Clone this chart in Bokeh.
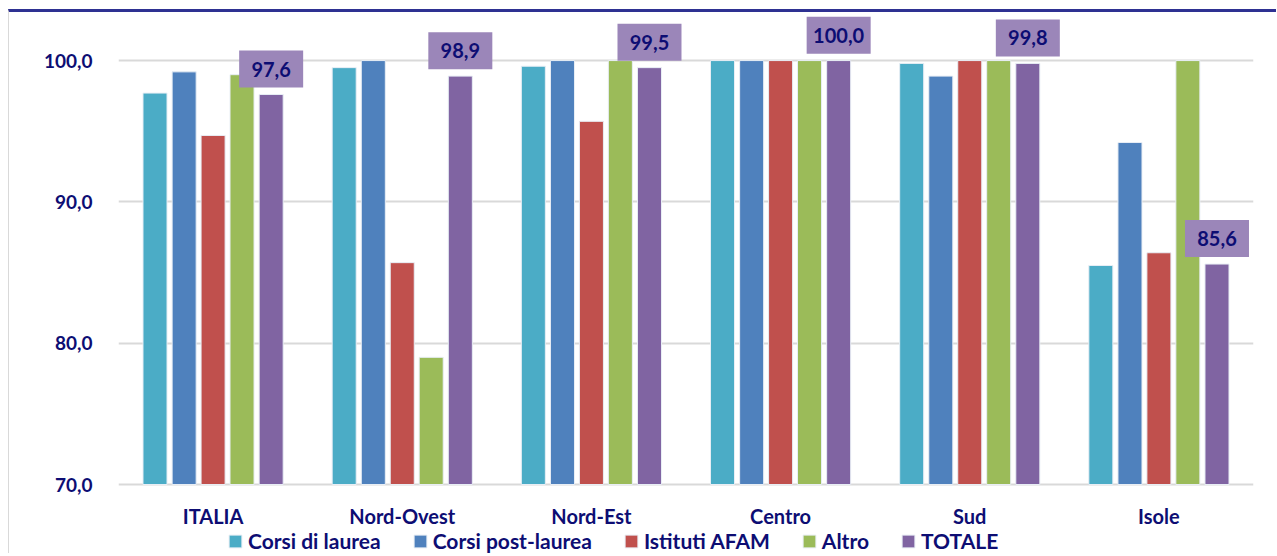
from bokeh.plotting import figure
from bokeh.models import ColumnDataSource, FactorRange, Legend, LegendItem, FixedTicker
from bokeh.core.properties import value
from bokeh.transform import dodge
from bokeh.embed import file_html
from bokeh.resources import INLINE

regions = ["ITALIA", "Nord-Ovest", "Nord-Est", "Centro", "Sud", "Isole"]
corsi_laurea = [97.7, 99.5, 99.6, 100.0, 99.8, 85.5]
corsi_post_laurea = [99.2, 100.0, 100.0, 100.0, 98.9, 94.2]
istituti_afam = [94.7, 85.7, 95.7, 100.0, 100.0, 86.4]
altro = [99.0, 79.0, 100.0, 100.0, 100.0, 100.0]
totale = [97.6, 98.9, 99.5, 100.0, 99.8, 85.6]
series_names = ["Corsi di laurea", "Corsi post-laurea", "Istituti AFAM", "Altro", "TOTALE"]
y_ticks = [70, 80, 90, 100]
y_tick_labels = ["70,0", "80,0", "90,0", "100,0"]

colors = ["#4bacc6", "#4f81bd", "#c0504d", "#9bbb59", "#8064a2"]
navy = "#0d0d73"
FONT = "Lato"
AXIS_MIN = y_ticks[0]

src = ColumnDataSource(dict(
    region=regions, s0=corsi_laurea, s1=corsi_post_laurea, s2=istituti_afam,
    s3=altro, s4=totale, base=[AXIS_MIN] * len(regions),
    lab=[("%.1f" % v).replace(".", ",") for v in totale],
))

# frame extends below the 70 baseline so that category labels and legend sit inside it
p = figure(x_range=FactorRange(*regions, range_padding=0), y_range=(64.905, 103.26),
           width=1268, height=544, output_backend="svg", toolbar_location=None,
           min_border_left=109, min_border_right=24, min_border_top=2, min_border_bottom=0,
           styles={"border-top": "3px solid #2e3192", "border-left": "1px solid #d9d9d9",
                   "margin-left": "8px", "margin-top": "9px"})
p.outline_line_color = None
p.background_fill_color = "white"

offsets = [-0.307, -0.153, 0.0, 0.153, 0.307]
renderers = []
for i, (name, col, off) in enumerate(zip(series_names, colors, offsets)):
    r = p.vbar(x=dodge("region", off, range=p.x_range), top="s%d" % i, bottom="base",
               width=0.127, source=src, fill_color=col, line_color="#e8eef5", line_width=1)
    renderers.append(r)

# label boxes above the TOTALE bars
lx = dodge("region", offsets[4], range=p.x_range)
ly = dodge("s4", 1.8, range=p.y_range)
p.rect(x=lx, y=ly, width=64, height=37, width_units="screen", height_units="screen",
       source=src, fill_color="#9b86b9", line_color=None)
p.text(x=lx, y=ly, text="lab", source=src, text_align="center", text_baseline="middle",
       text_font=value(FONT), text_font_style="bold", text_font_size="20px", text_color=navy)

# category labels under the baseline
p.text(x="region", y=dodge("base", -2.26, range=p.y_range), text="region", source=src,
       text_align="center", text_baseline="middle", text_font=value(FONT),
       text_font_style="bold", text_font_size="20px", text_color=navy)
p.xaxis.visible = False

p.yaxis.ticker = FixedTicker(ticks=y_ticks)
p.yaxis.major_label_overrides = {t: l for t, l in zip(y_ticks, y_tick_labels)}
ax = p.yaxis[0]
ax.axis_line_color = None
ax.major_tick_line_color = None
ax.minor_tick_line_color = None
ax.major_label_text_font = FONT
ax.major_label_text_font_style = "bold"
ax.major_label_text_color = navy
ax.major_label_text_font_size = "19px"
ax.major_label_standoff = 20
p.xgrid.grid_line_color = None
p.ygrid.grid_line_color = "#d9d9d9"
p.ygrid.grid_line_width = 2

legend = Legend(items=[LegendItem(label=n, renderers=[r]) for n, r in zip(series_names, renderers)],
                orientation="horizontal", location=(109, 3),
                label_text_font=FONT, label_text_font_style="bold", label_text_font_size="21px",
                label_text_color=navy, glyph_width=16, glyph_height=16, label_standoff=5,
                spacing=31, padding=2, margin=0, border_line_color=None,
                background_fill_alpha=0)
p.add_layout(legend, "center")

open("out.html", "w").write(file_html(p, INLINE))
